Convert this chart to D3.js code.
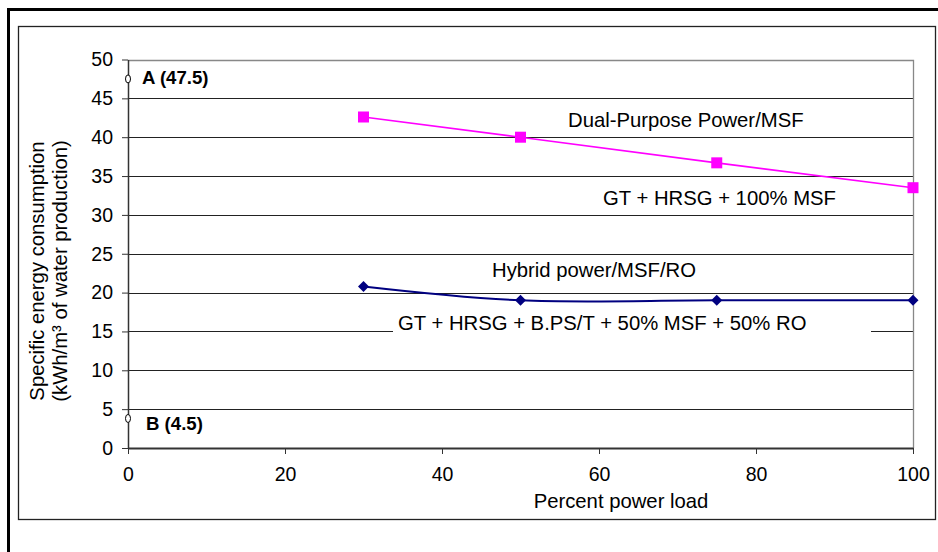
<!DOCTYPE html>
<meta charset="utf-8">
<style>
body { margin: 0; background: #fff; }
svg { display: block; font-family: "Liberation Sans", Arial, sans-serif; }
.grid line { stroke: #222; shape-rendering: crispEdges; }
.tick text { font-size: 19.5px; fill: #000; }
.note { font-size: 20.3px; fill: #000; }
.ref { font-size: 18.6px; font-weight: bold; fill: #000; }
</style>
<body>
<svg width="938" height="552"></svg>
<script src="https://d3js.org/d3.v7.min.js"></script>
<script>

// values
var loads = [30, 50, 75, 100];
var dualPurpose = [42.6, 40.0, 36.7, 33.5];
var hybrid = [20.8, 19.0, 19.0, 19.0];
var refNames = ["A (47.5)", "B (4.5)"];
var refLoads = [0, 0];
var refValues = [47.5, 3.8];
var xTicks = [0, 20, 40, 60, 80, 100];
var yTicks = [0, 5, 10, 15, 20, 25, 30, 35, 40, 45, 50];

var svg = d3.select("svg");

// outer heavy frame and chart box
svg.append("rect")
    .attr("x", 8.5).attr("y", 9.5)
    .attr("width", 1000).attr("height", 1000)
    .attr("fill", "none").attr("stroke", "#000").attr("stroke-width", 3);
svg.append("rect")
    .attr("x", 18.5).attr("y", 26.5)
    .attr("width", 917).attr("height", 493)
    .attr("fill", "#fff").attr("stroke", "#222").attr("stroke-width", 1.3);

var x = d3.scaleLinear().domain([0, 100]).range([128, 913]),
    y = d3.scaleLinear().domain([0, 50]).range([448, 59.5]);

// gridlines
svg.append("g").attr("class", "grid")
  .selectAll("line")
  .data(yTicks.filter(function(d) { return d > 0 && d < 50; }))
  .enter().append("line")
    .attr("x1", x(0)).attr("x2", x(100))
    .attr("y1", function(d) { return Math.round(y(d)) + 0.5; })
    .attr("y2", function(d) { return Math.round(y(d)) + 0.5; });

// plot area border top/right (grey)
svg.append("path")
    .attr("d", "M" + x(0) + "," + (Math.round(y(50)) + 0.5) + "H" + (x(100) + 0.5) + "V" + y(0))
    .attr("fill", "none").attr("stroke", "#888").attr("stroke-width", 1.3);

// axes
var yAxis = svg.append("g")
    .attr("transform", "translate(" + x(0) + ",0)")
    .call(d3.axisLeft(y).tickValues(yTicks).tickSize(6).tickPadding(9).tickSizeOuter(0));
yAxis.select(".domain").attr("stroke", "#333").attr("stroke-width", 1.5);
yAxis.selectAll(".tick line").attr("stroke", "#333");

var xAxis = svg.append("g")
    .attr("transform", "translate(0," + y(0) + ")")
    .call(d3.axisBottom(x).tickValues(xTicks).tickSize(6).tickPadding(13).tickSizeOuter(0));
xAxis.select(".domain").attr("stroke", "#333").attr("stroke-width", 2);
xAxis.selectAll(".tick line").attr("stroke", "#333");
svg.selectAll(".tick text").attr("font-family", null).attr("font-size", null);

// axis titles
var yt = svg.append("text").attr("class", "note")
    .attr("transform", "translate(44,271) rotate(-90)")
    .attr("text-anchor", "middle");
yt.append("tspan").attr("x", 0).attr("y", 0).text("Specific energy consumption");
yt.append("tspan").attr("x", 0).attr("y", 23).text("(kWh/m\u00b3 of water production)");

svg.append("text").attr("class", "note")
    .attr("x", 621).attr("y", 508)
    .attr("text-anchor", "middle")
    .text("Percent power load");

// label box that breaks the 15 gridline
svg.append("rect")
    .attr("x", 393).attr("y", 312)
    .attr("width", 478).attr("height", 26)
    .attr("fill", "#fff");

// series
var dualLine = d3.line()
    .x(function(d, i) { return x(loads[i]); })
    .y(function(d) { return y(d); });
var hybLine = d3.line()
    .x(function(d, i) { return x(loads[i]); })
    .y(function(d) { return y(d); })
    .curve(d3.curveCatmullRom.alpha(0.5));

svg.append("path").datum(dualPurpose)
    .attr("d", dualLine)
    .attr("fill", "none").attr("stroke", "#ff00ff").attr("stroke-width", 1.6);
svg.append("path").datum(hybrid)
    .attr("d", hybLine)
    .attr("fill", "none").attr("stroke", "#000080").attr("stroke-width", 2);

svg.selectAll(".sq").data(dualPurpose).enter().append("rect")
    .attr("class", "sq")
    .attr("x", function(d, i) { return x(loads[i]) - 5.5; })
    .attr("y", function(d) { return y(d) - 5.5; })
    .attr("width", 11).attr("height", 11)
    .attr("fill", "#ff00ff");

svg.selectAll(".dm").data(hybrid).enter().append("path")
    .attr("class", "dm")
    .attr("d", function(d, i) {
      var cx = x(loads[i]), cy = y(d);
      return "M" + cx + "," + (cy - 5.5) + "L" + (cx + 5.5) + "," + cy +
             "L" + cx + "," + (cy + 5.5) + "L" + (cx - 5.5) + "," + cy + "Z";
    })
    .attr("fill", "#000080");

// reference points A and B
svg.selectAll(".refpt").data(refValues).enter().append("ellipse")
    .attr("class", "refpt")
    .attr("cx", function(d, i) { return x(refLoads[i]); })
    .attr("cy", function(d) { return y(d); })
    .attr("rx", 2.5).attr("ry", 4)
    .attr("fill", "#fff").attr("stroke", "#000").attr("stroke-width", 1);

svg.selectAll(".ref").data(refNames).enter().append("text")
    .attr("class", "ref")
    .attr("x", function(d, i) { return x(refLoads[i]) + (i ? 18 : 14); })
    .attr("y", function(d, i) { return i ? 430 : 84; })
    .text(function(d) { return d; });

// curve annotations
svg.append("text").attr("class", "note").attr("x", 568).attr("y", 127).text("Dual-Purpose Power/MSF");
svg.append("text").attr("class", "note").attr("x", 603).attr("y", 205).text("GT + HRSG + 100% MSF");
svg.append("text").attr("class", "note").attr("x", 492).attr("y", 277).text("Hybrid power/MSF/RO");
svg.append("text").attr("class", "note").attr("x", 398).attr("y", 330).text("GT + HRSG + B.PS/T + 50% MSF + 50% RO");

</script>
</body>
